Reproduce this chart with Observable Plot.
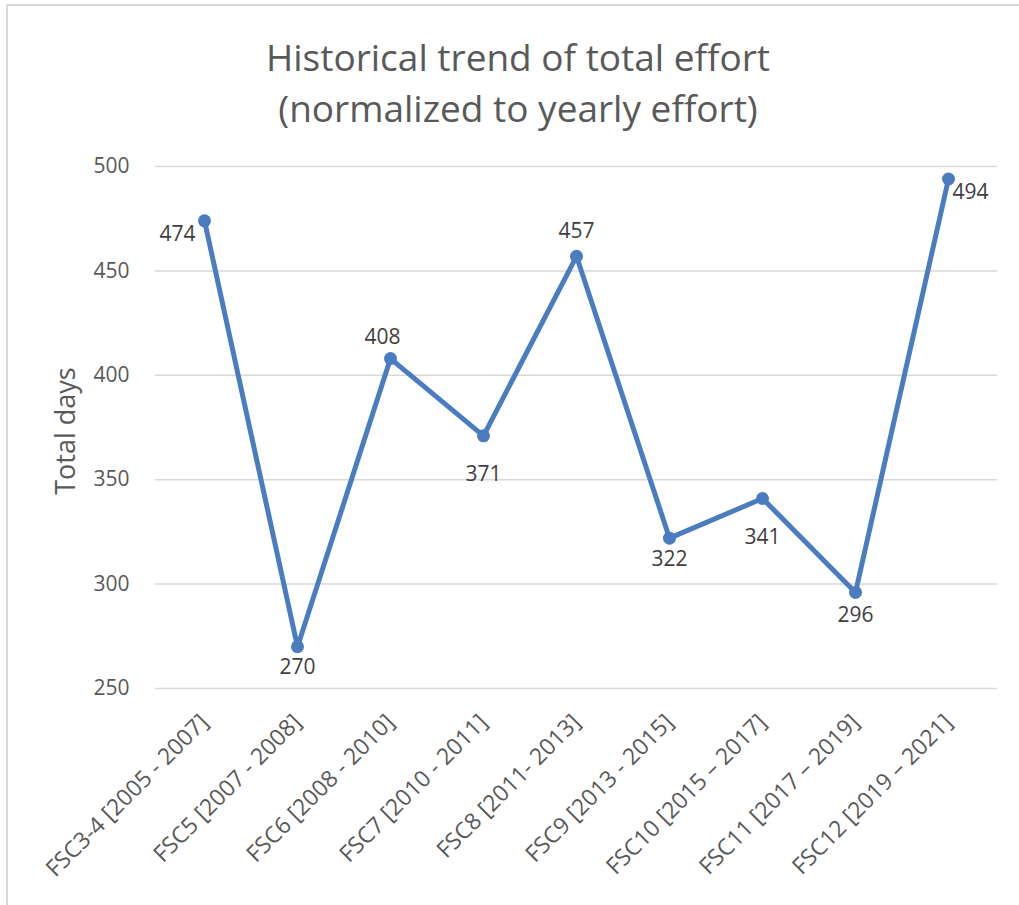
<!DOCTYPE html>
<html>
<head>
<meta charset="utf-8">
<script src="https://cdn.jsdelivr.net/npm/d3@7"></script>
<script src="https://cdn.jsdelivr.net/npm/@observablehq/plot@0.6"></script>
<style>
  html, body { margin: 0; padding: 0; background: #fff; }
  #wrap { position: relative; width: 1019px; height: 905px; overflow: hidden; font-family: "Open Sans", Lato, sans-serif; }
  #frame { position: absolute; left: 6px; top: 4px; width: 1030px; height: 920px; border-top: 2px solid #d9d9d9; border-left: 2px solid #d9d9d9; }
  #title { position: absolute; left: 0; top: 31px; width: 1036px; text-align: center; color: #595959; font-size: 37px; line-height: 51px; }
  #ylab { position: absolute; left: 64px; top: 431px; transform: translate(-50%, -50%) rotate(-90deg); color: #595959; font-size: 27px; white-space: nowrap; }
  #chart { position: absolute; left: 0; top: 140px; }
</style>
</head>
<body>
<div id="wrap">
  <div id="frame"></div>
  <div id="title">Historical trend of total effort<br>(normalized to yearly effort)</div>
  <div id="chart"></div>
  <div id="ylab">Total days</div>
</div>
<script>
const categories = [
  "FSC3-4 [2005 - 2007]",
  "FSC5 [2007 - 2008]",
  "FSC6 [2008 - 2010]",
  "FSC7 [2010 - 2011]",
  "FSC8 [2011- 2013]",
  "FSC9 [2013 - 2015]",
  "FSC10 [2015 – 2017]",
  "FSC11 [2017 – 2019]",
  "FSC12 [2019 – 2021]"
];
const totalDays = [474, 270, 408, 371, 457, 322, 341, 296, 494];
const yTicks = [250, 300, 350, 400, 450, 500];
// label placement offsets [dx, dy] per point
const labelOffsets = [[-27, 13], [0, 21], [-8, -21], [0, 38], [0, -25], [0, 21], [0, 39], [0, 23], [22, 13]];

const data = categories.map((c, i) => ({cat: c, value: totalDays[i]}));
const color = "#4a7dc0";
const font = "'Open Sans', Lato, sans-serif";

const chart = Plot.plot({
  width: 1019,
  height: 765,
  marginLeft: 155,
  marginRight: 22,
  marginTop: 26,
  marginBottom: 217,
  style: {fontFamily: font, fontSize: "20px", color: "#595959", background: "transparent"},
  x: {type: "point", domain: categories, padding: 0.5, label: null},
  y: {domain: [250, 500], ticks: yTicks, label: null},
  marks: [
    Plot.gridY(yTicks, {stroke: "#d9d9d9", strokeOpacity: 1, strokeWidth: 1.5}),
    Plot.axisY(yTicks, {tickSize: 0, tickPadding: 26, fontSize: 21, fill: "#595959", label: null}),
    Plot.axisX({tickSize: 0, tickRotate: -45, tickPadding: 30, fontSize: 23, fill: "#595959", label: null}),
    Plot.line(data, {x: "cat", y: "value", stroke: color, strokeWidth: 5, strokeLinejoin: "round"}),
    Plot.dot(data, {x: "cat", y: "value", fill: color, r: 6.5}),
    ...data.map((d, i) => Plot.text([d], {x: "cat", y: "value", text: (e) => String(e.value), dx: labelOffsets[i][0], dy: labelOffsets[i][1], fill: "#404040", fontSize: 21}))
  ]
});
document.getElementById("chart").appendChild(chart);
</script>
</body>
</html>
